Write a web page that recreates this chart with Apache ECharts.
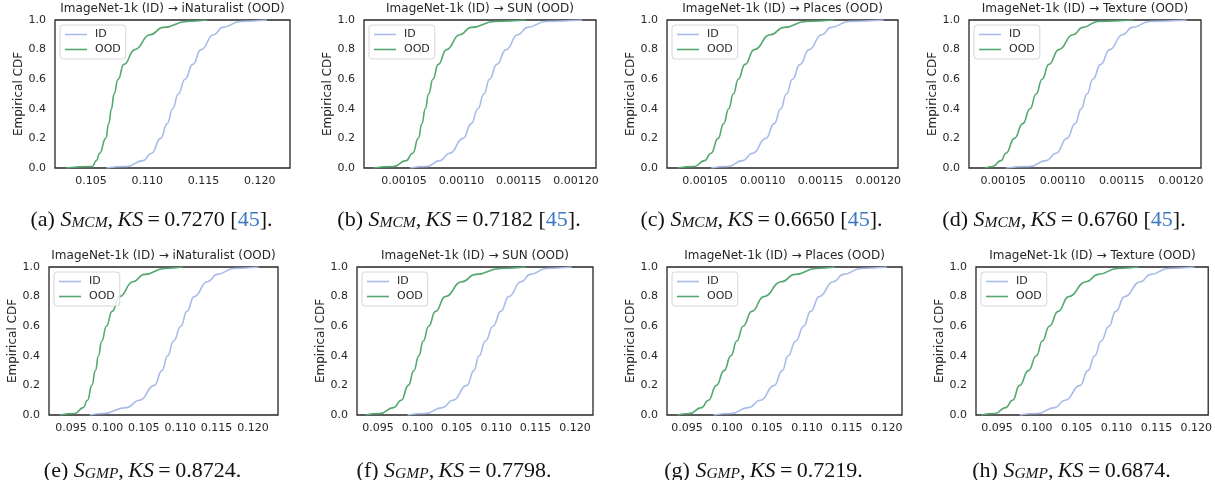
<!DOCTYPE html>
<html>
<head>
<meta charset="utf-8">
<style>
  html, body { margin: 0; padding: 0; background: #fff; }
  #chart { width: 1215px; height: 480px; }
</style>
<script src="https://cdn.jsdelivr.net/npm/echarts@6/dist/echarts.min.js"></script>
</head>
<body>
<div id="chart"></div>
<script>
// CDF levels, and the score at those levels
const levels = [0, 0.01, 0.05, 0.1, 0.2, 0.3, 0.4, 0.5, 0.6, 0.7, 0.8, 0.9, 0.95, 0.99, 1]

// (a) S_MCM, iNaturalist
const idA = [0.10637, 0.10815, 0.10964, 0.11039, 0.11119, 0.11179, 0.11226, 0.11277, 0.11336, 0.11405, 0.11479, 0.11589, 0.11673, 0.11827, 0.12065]
const oodA = [0.10280, 0.10512, 0.10548, 0.10577, 0.10631, 0.10658, 0.10682, 0.10705, 0.10741, 0.10792, 0.10890, 0.11024, 0.11143, 0.11351, 0.11530]
// (b) S_MCM, SUN
const idB = [0.00105520, 0.00106965, 0.00108121, 0.00108988, 0.00110144, 0.00110867, 0.00111445, 0.00111965, 0.00112456, 0.00113092, 0.00113901, 0.00114913, 0.00115780, 0.00117369, 0.00120548]
const oodB = [0.00102341, 0.00104075, 0.00105173, 0.00105751, 0.00106243, 0.00106561, 0.00106850, 0.00107139, 0.00107514, 0.00107977, 0.00108699, 0.00109855, 0.00110867, 0.00112890, 0.00115635]
// (c) S_MCM, Places
const idC = [0.00105517, 0.00106954, 0.00108248, 0.00109110, 0.00110259, 0.00110978, 0.00111553, 0.00112041, 0.00112559, 0.00113220, 0.00113996, 0.00115088, 0.00115921, 0.00117444, 0.00120462]
const oodC = [0.00102643, 0.00104080, 0.00104943, 0.00105517, 0.00106121, 0.00106609, 0.00107041, 0.00107443, 0.00107874, 0.00108449, 0.00109254, 0.00110633, 0.00111840, 0.00113708, 0.00116151]
// (d) S_MCM, Texture
const idD = [0.00105226, 0.00107204, 0.00108616, 0.00109464, 0.00110368, 0.00111074, 0.00111582, 0.00112063, 0.00112571, 0.00113221, 0.00113984, 0.00115057, 0.00115905, 0.00117374, 0.00120481]
const oodD = [0.00103466, 0.00104096, 0.00104802, 0.00105226, 0.00105932, 0.00106639, 0.00107260, 0.00107769, 0.00108277, 0.00108842, 0.00109690, 0.00110876, 0.00111724, 0.00112995, 0.00115961]
// (e) S_GMP, iNaturalist
const idE = [0.09759, 0.09941, 0.10259, 0.10441, 0.10645, 0.10750, 0.10827, 0.10909, 0.11009, 0.11091, 0.11191, 0.11373, 0.11509, 0.11736, 0.12077]
const oodE = [0.09350, 0.09555, 0.09668, 0.09727, 0.09786, 0.09836, 0.09877, 0.09923, 0.09986, 0.10064, 0.10168, 0.10350, 0.10509, 0.10782, 0.11032]
// (f) S_GMP, SUN
const idF = [0.09876, 0.10097, 0.10319, 0.10451, 0.10628, 0.10717, 0.10783, 0.10863, 0.10960, 0.11058, 0.11159, 0.11314, 0.11434, 0.11637, 0.11956]
const oodF = [0.09345, 0.09522, 0.09699, 0.09796, 0.09885, 0.09956, 0.10018, 0.10075, 0.10142, 0.10230, 0.10354, 0.10562, 0.10739, 0.11049, 0.11381]
// (g) S_GMP, Places
const idG = [0.09834, 0.10050, 0.10267, 0.10419, 0.10592, 0.10692, 0.10765, 0.10861, 0.10960, 0.11047, 0.11155, 0.11329, 0.11459, 0.11675, 0.12000]
const oodG = [0.09379, 0.09530, 0.09682, 0.09769, 0.09868, 0.09964, 0.10050, 0.10124, 0.10202, 0.10310, 0.10462, 0.10679, 0.10852, 0.11112, 0.11350]
// (h) S_GMP, Texture
const idH = [0.09785, 0.10004, 0.10224, 0.10355, 0.10544, 0.10640, 0.10728, 0.10807, 0.10904, 0.10991, 0.11101, 0.11298, 0.11430, 0.11649, 0.11978]
const oodH = [0.09303, 0.09478, 0.09610, 0.09697, 0.09785, 0.09895, 0.09996, 0.10070, 0.10158, 0.10268, 0.10399, 0.10618, 0.10772, 0.11013, 0.11276]

// tick labels
const ticksMcmA = [0.105, 0.110, 0.115, 0.120]
const ticksMcm = [0.00105, 0.00110, 0.00115, 0.00120]
const ticksGmp = [0.095, 0.100, 0.105, 0.110, 0.115, 0.120]
const ticksY = [0, 0.2, 0.4, 0.6, 0.8, 1.0]

// x axis limits per panel
const xLimits = [
  [0.1018, 0.1227], [0.001015, 0.0012175], [0.001017, 0.001217], [0.001021, 0.001217],
  [0.09198, 0.12343], [0.09234, 0.12228], [0.0925, 0.1219], [0.09238, 0.1215]
]

const oodNames = ['iNaturalist', 'SUN', 'Places', 'Texture']
const ksValues = ['0.7270', '0.7182', '0.6650', '0.6760', '0.8724', '0.7798', '0.7219', '0.6874']
const letters = ['a', 'b', 'c', 'd', 'e', 'f', 'g', 'h']

const panels = [
  { id: idA, ood: oodA, ticks: ticksMcmA, dec: 3 },
  { id: idB, ood: oodB, ticks: ticksMcm, dec: 5 },
  { id: idC, ood: oodC, ticks: ticksMcm, dec: 5 },
  { id: idD, ood: oodD, ticks: ticksMcm, dec: 5 },
  { id: idE, ood: oodE, ticks: ticksGmp, dec: 3 },
  { id: idF, ood: oodF, ticks: ticksGmp, dec: 3 },
  { id: idG, ood: oodG, ticks: ticksGmp, dec: 3 },
  { id: idH, ood: oodH, ticks: ticksGmp, dec: 3 }
]

// plot boxes [left, top, width, height]
const boxes = [
  [55, 20, 235, 148], [364, 20, 232, 148], [667, 20, 231, 148], [969, 20, 232, 148],
  [49, 267, 229, 148], [357, 267, 236, 148], [667, 267, 235, 148], [976, 267, 233, 148]
]

const ID_COLOR = '#a9bbe8'
const OOD_COLOR = '#55a870'
const TEXT = '#262626'
const FONT = 'DejaVu Sans'
const SERIF = 'Liberation Serif'

const chart = echarts.init(document.getElementById('chart'))

const grid = [], xAxis = [], yAxis = [], series = [], legend = [], graphic = []

panels.forEach((p, i) => {
  const b = boxes[i]
  grid.push({
    left: b[0], top: b[1], width: b[2], height: b[3],
    show: true, borderColor: '#262626', borderWidth: 1.3, backgroundColor: '#fff'
  })
  xAxis.push({
    type: 'value', gridIndex: i,
    min: xLimits[i][0], max: xLimits[i][1],
    axisLine: { show: false }, axisTick: { show: false }, splitLine: { show: false },
    axisLabel: {
      customValues: p.ticks, margin: 8,
      fontSize: 11, fontFamily: FONT, color: TEXT,
      formatter: v => v.toFixed(p.dec)
    }
  })
  yAxis.push({
    type: 'value', gridIndex: i, min: 0, max: 1,
    name: 'Empirical CDF', nameLocation: 'middle', nameRotate: 90, nameGap: 29,
    nameTextStyle: { fontSize: 12, fontFamily: FONT, color: TEXT },
    axisLine: { show: false }, axisTick: { show: false }, splitLine: { show: false },
    axisLabel: {
      customValues: ticksY, margin: 9,
      fontSize: 11, fontFamily: FONT, color: TEXT,
      formatter: v => v.toFixed(1)
    }
  })
  const line = (name, q, color) => ({
    name, type: 'line', xAxisIndex: i, yAxisIndex: i,
    data: levels.map((l, k) => [q[k], l]),
    symbol: 'none', showSymbol: false, smooth: 0.5, smoothMonotone: 'x',
    lineStyle: { color, width: 1.6 }, itemStyle: { color },
    animation: false
  })
  series.push(line('ID', p.id, ID_COLOR))
  series.push(line('OOD', p.ood, OOD_COLOR))
  legend.push({
    left: b[0] + 5, top: b[1] + 5, orient: 'vertical',
    data: ['ID', 'OOD'], selectedMode: false,
    icon: 'rect', itemWidth: 22, itemHeight: 1.6, itemGap: 4,
    padding: [4, 5, 4, 5],
    borderColor: '#d6d6d6', borderWidth: 1, borderRadius: 3,
    backgroundColor: 'rgba(255,255,255,0.85)',
    textStyle: { fontSize: 11, fontFamily: FONT, color: TEXT, padding: [0, 0, 0, 3] }
  })
  // panel title
  graphic.push({
    type: 'text', x: b[0] + b[2] / 2, y: b[1] - 11,
    style: {
      text: 'ImageNet-1k (ID) \u2192 ' + oodNames[i % 4] + ' (OOD)',
      fontSize: 12, fontFamily: FONT, fill: TEXT,
      align: 'center', verticalAlign: 'middle'
    }
  })
  // caption
  const sub = i < 4 ? 'MCM' : 'GMP'
  const ref = i < 4 ? '{t| [}{c|45}{t|].}' : '{t|.}'
  graphic.push({
    type: 'text', x: b[0] + b[2] / 2 - 21, y: i < 4 ? 220 : 471,
    style: {
      text: '{t|(' + letters[i] + ') }{i|S}{s|' + sub + '}{i|,\u2009KS}{t|\u2009=\u2009' + ksValues[i] + '}' + ref,
      align: 'center', verticalAlign: 'middle',
      rich: {
        t: { fontSize: 22, fontFamily: SERIF, fill: '#111', lineHeight: 22, verticalAlign: 'top' },
        i: { fontSize: 22, fontFamily: SERIF, fontStyle: 'italic', fill: '#111', lineHeight: 22, verticalAlign: 'top' },
        s: { fontSize: 15.5, fontFamily: SERIF, fontStyle: 'italic', fill: '#111', lineHeight: 15, padding: [9, 0, 0, 0], verticalAlign: 'bottom' },
        c: { fontSize: 22, fontFamily: SERIF, fill: '#3b78c2', lineHeight: 22, verticalAlign: 'top' }
      }
    }
  })
})

chart.setOption({
  backgroundColor: '#fff',
  animation: false,
  grid, xAxis, yAxis, series, legend, graphic
})
</script>
</body>
</html>
